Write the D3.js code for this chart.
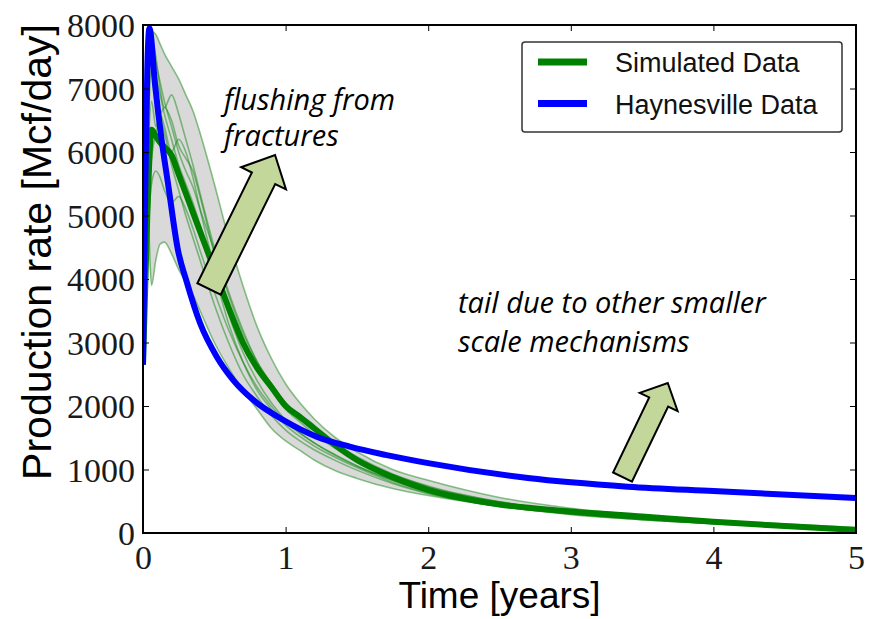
<!DOCTYPE html>
<html>
<head>
<meta charset="utf-8">
<script src="https://cdn.jsdelivr.net/npm/d3@7"></script>
<style>
  body { margin: 0; background: #fff; }
  svg { display: block; }
</style>
</head>
<body>
<div id="chart"></div>
<script>
// time grid (years) shared by all simulated runs
const times = [0, 0.03, 0.06, 0.09, 0.12, 0.15, 0.2, 0.25, 0.3, 0.35, 0.4, 0.5, 0.6, 0.7, 0.8, 0.9, 1.0, 1.1, 1.2, 1.35, 1.5, 1.75, 2.0, 2.5, 3.0, 3.5, 4.0, 4.5, 5.0];

// individual simulated runs (Mcf/day)
const simRuns = [
  [2700, 6500, 7900, 7850, 7700, 7550, 7350, 7150, 6900, 6650, 6300, 5500, 4650, 3900, 3250, 2750, 2350, 2050, 1800, 1500, 1280, 1000, 830, 560, 390, 280, 200, 140, 90],
  [2700, 5200, 3900, 4300, 4550, 4580, 4400, 4150, 3950, 3750, 3500, 3000, 2600, 2250, 1950, 1650, 1450, 1300, 1150, 980, 860, 700, 590, 420, 300, 210, 150, 100, 40],
  [2700, 6000, 7800, 7500, 7000, 6700, 6900, 6600, 6200, 5800, 5350, 4500, 3800, 3200, 2700, 2350, 2050, 1820, 1620, 1380, 1180, 920, 730, 490, 340, 240, 170, 110, 60],
  [2700, 5800, 7300, 7000, 6600, 6700, 6500, 6100, 5900, 5700, 5300, 4400, 3600, 3050, 2600, 2250, 1950, 1750, 1560, 1330, 1130, 880, 690, 460, 320, 230, 160, 105, 55],
  [2700, 5500, 6800, 6400, 6600, 6400, 6000, 6200, 6000, 5600, 5100, 4200, 3450, 2850, 2400, 2050, 1780, 1580, 1420, 1230, 1060, 830, 650, 440, 310, 220, 155, 100, 50],
  [2700, 6200, 7600, 7200, 6900, 6600, 6200, 5800, 5500, 5200, 4850, 4100, 3300, 2700, 2250, 1950, 1700, 1520, 1370, 1190, 1030, 800, 630, 420, 300, 210, 150, 95, 45],
  [2700, 5000, 5900, 6300, 6500, 6300, 5800, 5400, 5000, 4650, 4300, 3600, 3000, 2500, 2150, 1850, 1620, 1450, 1310, 1140, 990, 780, 620, 420, 290, 210, 145, 95, 45],
  [2700, 4500, 5500, 5700, 5600, 5400, 5200, 5300, 5100, 4800, 4450, 3800, 3200, 2700, 2300, 2000, 1750, 1570, 1420, 1220, 1050, 830, 650, 440, 310, 220, 155, 100, 50],
  [2700, 6500, 7700, 7400, 7100, 6800, 6400, 6000, 5700, 5450, 5100, 4450, 3750, 3150, 2700, 2350, 2050, 1830, 1640, 1400, 1200, 930, 740, 490, 340, 240, 170, 110, 60]
];

// mean of the simulated runs (thick green)
const simMean = [2650, 5000, 6350, 6250, 6150, 6080, 5950, 5650, 5350, 5050, 4750, 4150, 3550, 3000, 2600, 2300, 2000, 1830, 1650, 1380, 1150, 880, 680, 450, 340, 260, 178, 110, 47];

// field data
const hayTimes = [0, 0.015, 0.03, 0.045, 0.085, 0.13, 0.175, 0.245, 0.306, 0.4, 0.517, 0.633, 0.774, 0.984, 1.218, 1.45, 1.7, 2.0, 2.7, 3.4, 4.0, 5.0];
const hayValues = [2650, 5300, 7300, 7950, 7050, 6200, 5510, 4457, 3960, 3307, 2777, 2409, 2094, 1780, 1517, 1360, 1230, 1100, 865, 730, 660, 550];

const xTicks = [0, 1, 2, 3, 4, 5];
const yTicks = [0, 1000, 2000, 3000, 4000, 5000, 6000, 7000, 8000];
const legendLabels = ['Simulated Data', 'Haynesville Data'];

const width = 871, height = 619;
const margin = { top: 25, right: 15, bottom: 86, left: 143 };

const svg = d3.select('#chart').append('svg')
  .attr('width', width)
  .attr('height', height);

const x = d3.scaleLinear().domain([0, 5]).range([margin.left, width - margin.right]);
const y = d3.scaleLinear().domain([0, 8000]).range([height - margin.bottom, margin.top]);

// envelope of the runs
const envelope = times.map((t, i) => ({
  t,
  lo: d3.min(simRuns, (r) => r[i]),
  hi: d3.max(simRuns, (r) => r[i])
}));

const area = d3.area()
  .x((d) => x(d.t))
  .y0((d) => y(d.lo))
  .y1((d) => y(d.hi))
  .curve(d3.curveMonotoneX);

const line = d3.line()
  .x((d) => x(d[0]))
  .y((d) => y(d[1]))
  .curve(d3.curveMonotoneX);

const plot = svg.append('g');
svg.append('defs').append('clipPath').attr('id', 'clip')
  .append('rect')
  .attr('x', x(0)).attr('y', y(8000))
  .attr('width', x(5) - x(0)).attr('height', y(0) - y(8000));
plot.attr('clip-path', 'url(#clip)');

plot.append('path')
  .datum(envelope)
  .attr('fill', '#d9d9d9')
  .attr('d', area);

plot.selectAll('.run')
  .data(simRuns)
  .enter()
  .append('path')
  .attr('class', 'run')
  .attr('fill', 'none')
  .attr('stroke', '#008000')
  .attr('stroke-opacity', 0.45)
  .attr('stroke-width', 1.6)
  .attr('d', (r) => line(times.map((t, i) => [t, r[i]])));

plot.append('path')
  .attr('fill', 'none')
  .attr('stroke', '#008000')
  .attr('stroke-width', 6)
  .attr('d', line(times.map((t, i) => [t, simMean[i]])));

plot.append('path')
  .attr('fill', 'none')
  .attr('stroke', '#0000ff')
  .attr('stroke-width', 6)
  .attr('d', line(hayTimes.map((t, i) => [t, hayValues[i]])));

// frame and ticks
const tickFont = "'Liberation Serif', 'DejaVu Serif', serif";

svg.append('rect')
  .attr('x', x(0)).attr('y', y(8000))
  .attr('width', x(5) - x(0)).attr('height', y(0) - y(8000))
  .attr('fill', 'none')
  .attr('stroke', '#000')
  .attr('stroke-width', 2);

const axB = svg.append('g')
  .attr('transform', `translate(0,${y(0)})`)
  .call(d3.axisBottom(x).tickValues(xTicks).tickSizeInner(-6).tickSizeOuter(0).tickPadding(12).tickFormat(d3.format('d')));
const axT = svg.append('g')
  .attr('transform', `translate(0,${y(8000)})`)
  .call(d3.axisTop(x).tickValues(xTicks).tickSizeInner(-6).tickSizeOuter(0).tickFormat(''));
const axL = svg.append('g')
  .attr('transform', `translate(${x(0)},0)`)
  .call(d3.axisLeft(y).tickValues(yTicks).tickSizeInner(-6).tickSizeOuter(0).tickPadding(8).tickFormat(d3.format('d')));
const axR = svg.append('g')
  .attr('transform', `translate(${x(5)},0)`)
  .call(d3.axisRight(y).tickValues(yTicks).tickSizeInner(-6).tickSizeOuter(0).tickFormat(''));

[axB, axT, axL, axR].forEach((a) => {
  a.select('.domain').remove();
  a.selectAll('line').attr('stroke', '#000').attr('stroke-width', 1);
});
[axB, axL].forEach((a) => {
  a.selectAll('text')
    .style('font-family', tickFont)
    .style('font-size', '34px')
    .attr('fill', '#1a1a1a');
});
axB.selectAll('text').attr('dy', '0.71em');
axL.selectAll('text').attr('dy', '0.34em');

// axis labels
const labelFont = "'Liberation Sans', Arial, sans-serif";
svg.append('text')
  .attr('x', (x(0) + x(5)) / 2)
  .attr('y', 608)
  .attr('text-anchor', 'middle')
  .style('font-family', labelFont)
  .style('font-size', '37px')
  .text('Time [years]');

svg.append('text')
  .attr('transform', `translate(51,${(12 + 492) / 2}) rotate(-90)`)
  .attr('text-anchor', 'middle')
  .style('font-family', labelFont)
  .style('font-size', '41px')
  .text('Production rate [Mcf/day]');

// legend
const legend = svg.append('g');
legend.append('rect')
  .attr('x', 522).attr('y', 42)
  .attr('width', 320).attr('height', 90)
  .attr('rx', 3)
  .attr('fill', '#fff')
  .attr('stroke', '#333')
  .attr('stroke-width', 1.5);
const legendColors = ['#008000', '#0000ff'];
legendLabels.forEach((lab, i) => {
  const ly = 62 + i * 41.5;
  legend.append('line')
    .attr('x1', 538).attr('x2', 587)
    .attr('y1', ly).attr('y2', ly)
    .attr('stroke', legendColors[i])
    .attr('stroke-width', 7);
  legend.append('text')
    .attr('x', 615).attr('y', ly + 10)
    .style('font-family', labelFont)
    .style('font-size', '27px')
    .attr('fill', '#111')
    .text(lab);
});

// annotation arrows (tail and tip in data units)
const arrows = [
  { tail: [0.463, 3843], tip: [0.926, 5953], shaft: 26, head: 50, headLen: 26 },
  { tail: [3.363, 882], tip: [3.68, 2362], shaft: 21, head: 42, headLen: 21 }
];

arrows.forEach((a) => {
  const x0 = x(a.tail[0]), y0 = y(a.tail[1]);
  const x1 = x(a.tip[0]), y1 = y(a.tip[1]);
  const len = Math.hypot(x1 - x0, y1 - y0);
  const ux = (x1 - x0) / len, uy = (y1 - y0) / len;
  const nx = -uy, ny = ux;
  const nkx = x1 - ux * a.headLen, nky = y1 - uy * a.headLen;
  const s = a.shaft / 2, h = a.head / 2;
  const pts = [
    [x0 + nx * s, y0 + ny * s],
    [nkx + nx * s, nky + ny * s],
    [nkx + nx * h, nky + ny * h],
    [x1, y1],
    [nkx - nx * h, nky - ny * h],
    [nkx - nx * s, nky - ny * s],
    [x0 - nx * s, y0 - ny * s]
  ];
  svg.append('polygon')
    .attr('points', pts.map((p) => p.join(',')).join(' '))
    .attr('fill', '#c4d79b')
    .attr('stroke', '#000')
    .attr('stroke-width', 2)
    .attr('stroke-linejoin', 'miter');
});

// annotation text
const noteFont = "'Open Sans', 'Noto Sans', sans-serif";
const notes = [
  { x: 224, y: 110, text: 'flushing from' },
  { x: 224, y: 146, text: 'fractures' },
  { x: 458, y: 313, text: 'tail due to other smaller' },
  { x: 458, y: 352, text: 'scale mechanisms' }
];
svg.selectAll('.note')
  .data(notes)
  .enter()
  .append('text')
  .attr('class', 'note')
  .attr('x', (d) => d.x)
  .attr('y', (d) => d.y)
  .style('font-family', noteFont)
  .style('font-style', 'italic')
  .style('font-size', '29px')
  .attr('fill', '#000')
  .text((d) => d.text);
</script>
</body>
</html>
